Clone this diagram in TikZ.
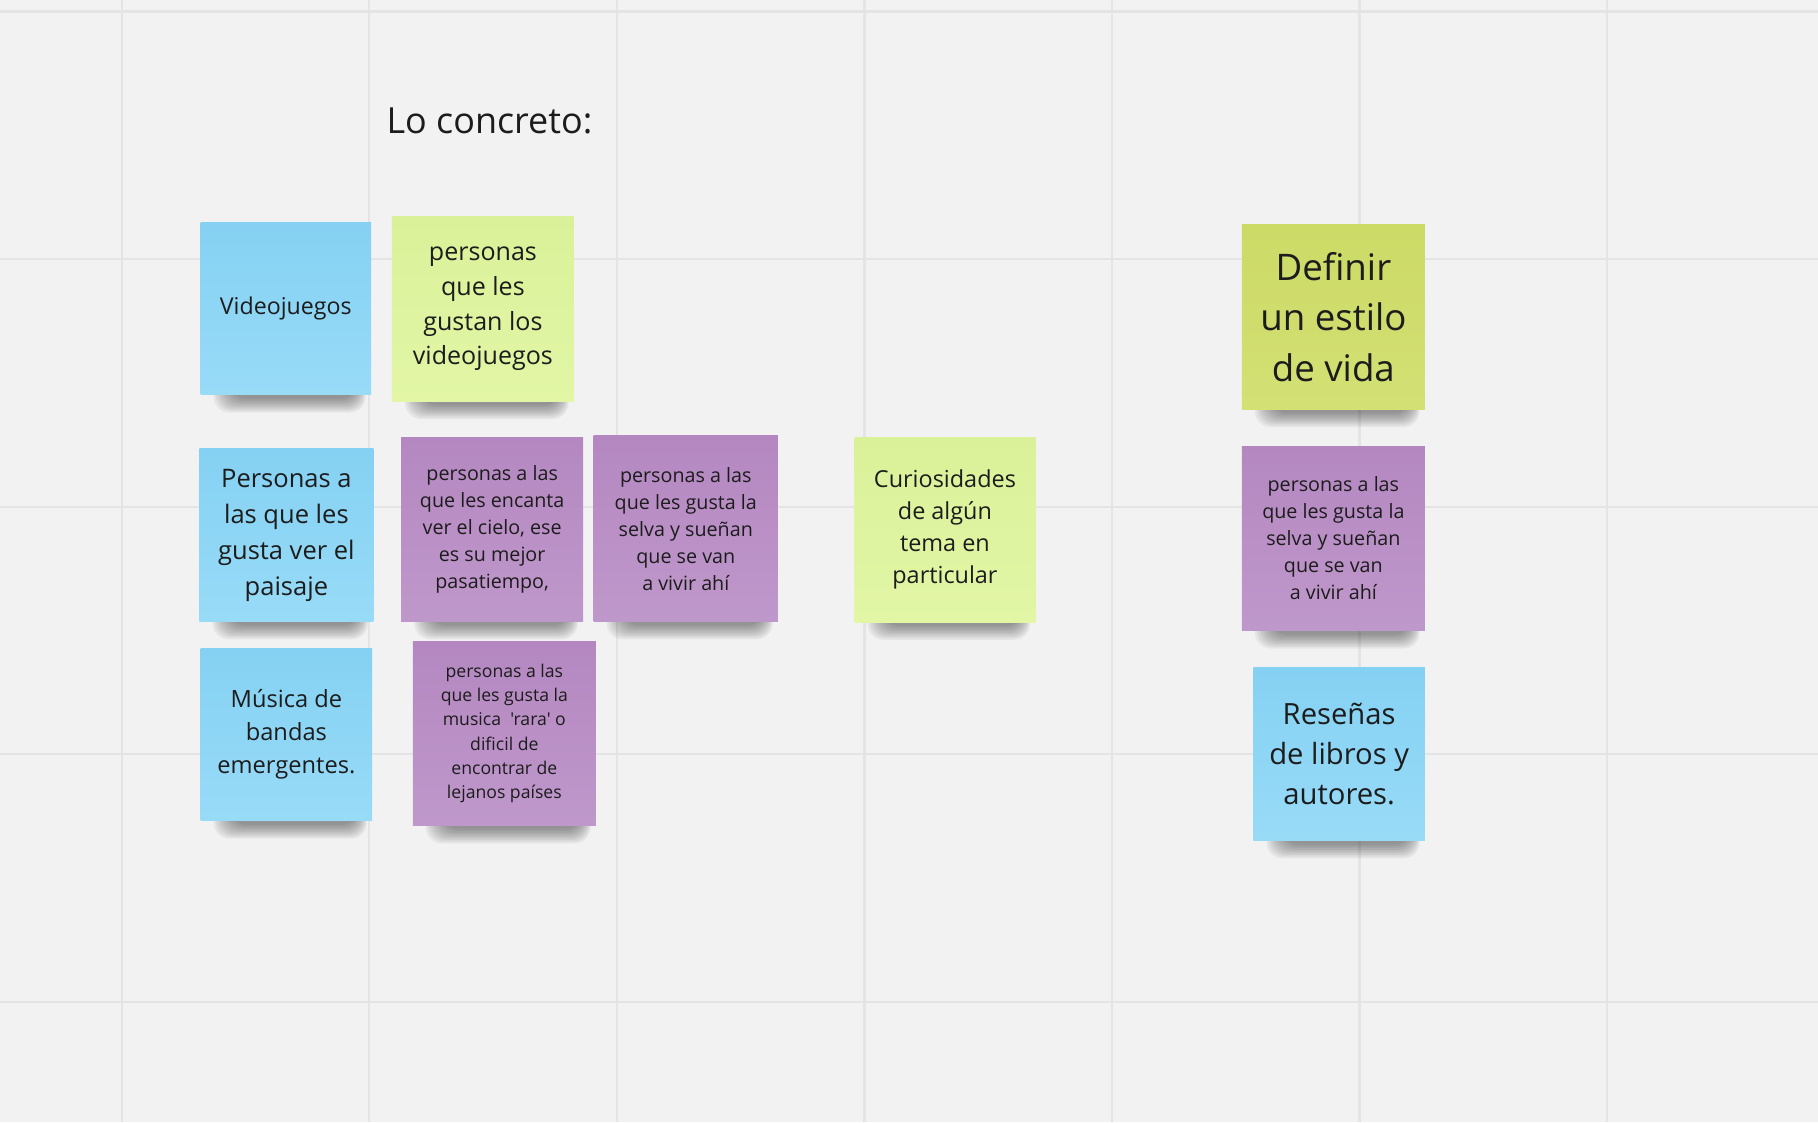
\documentclass[tikz,border=0pt]{standalone}
\usepackage{fontspec}
\setmainfont{Open Sans}[Ligatures=TeXOff]
\usetikzlibrary{calc}
\definecolor{bg}{HTML}{F2F2F2}
\definecolor{gridc}{HTML}{E4E4E4}
\definecolor{ink}{HTML}{1C1C1C}
\definecolor{blueA}{HTML}{85D1F3}
\definecolor{blueB}{HTML}{98DBF7}
\definecolor{purA}{HTML}{B487C0}
\definecolor{purB}{HTML}{BF98CB}
\definecolor{grnA}{HTML}{DAF199}
\definecolor{grnB}{HTML}{E2F6A6}
\definecolor{limeA}{HTML}{CCDA66}
\definecolor{limeB}{HTML}{D3E074}
\newcommand\notefont[2]{\fontsize{#1}{#2}\selectfont}
\pgfdeclarelayer{bglayer}
\pgfdeclarelayer{shadowlayer}
\pgfsetlayers{bglayer,shadowlayer,main}
\newcommand\noteshadow[1]{%
  \begin{pgfonlayer}{shadowlayer}
  \foreach \k in {0,...,8} {
    \fill[black, opacity=0.05, rounded corners=7]
      ($(#1.south west)+(26-\k*1.8,-40)$) rectangle ($(#1.south east)+(-13+\k*1.0,3+\k*1.5)$);
  }
  \end{pgfonlayer}}
\begin{document}
\begin{tikzpicture}[x=0.5pt,y=-0.5pt,
  sticky/.style={inner sep=0pt, align=center, text=ink, draw=none},
  bluenote/.style={sticky, top color=blueA, bottom color=blueB},
  purplenote/.style={sticky, top color=purA, bottom color=purB},
  greennote/.style={sticky, top color=grnA, bottom color=grnB},
  limenote/.style={sticky, top color=limeA, bottom color=limeB},
  gridline/.style={draw=gridc, line width=1pt}]
\useasboundingbox (0,0) rectangle (1568,968);
\begin{pgfonlayer}{bglayer}
\fill[bg] (0,0) rectangle (1568,968);
\foreach \gx in {105,318.5,532,745.5,959,1172.5,1386}
  \draw[gridline] (\gx,0) -- (\gx,968);
\foreach \gy in {10,223.5,437,650.5,864}
  \draw[gridline] (0,\gy) -- (1568,\gy);
\end{pgfonlayer}

\node[anchor=base west, inner sep=0pt, text=ink, font=\notefont{15.5pt}{19pt}] (title) at (333,115) {Lo concreto:};

\node[bluenote, minimum width=73.5pt, minimum height=74.5pt, font=\notefont{10pt}{14pt}]
  (n1) at (246.5,266) {Videojuegos};
\node[greennote, minimum width=78.5pt, minimum height=79.5pt, font=\notefont{10.8pt}{15pt}]
  (n2) at (416.5,266.5) {personas\\que les\\gustan los\\videojuegos};
\node[bluenote, minimum width=75pt, minimum height=74.5pt, font=\notefont{11pt}{15.5pt}]
  (n3) at (247,461.5) {Personas a\\las que les\\gusta ver el\\paisaje};
\node[purplenote, minimum width=78.5pt, minimum height=79.5pt, font=\notefont{8.5pt}{11.65pt}]
  (n4) at (424.5,456.5) {personas a las\\que les encanta\\ver el cielo, ese\\es su mejor\\pasatiempo,};
\node[purplenote, minimum width=79.5pt, minimum height=80pt, font=\notefont{8.5pt}{11.65pt}]
  (n5) at (591.5,456) {personas a las\\que les gusta la\\selva y sueñan\\que se van\\a vivir ahí};
\node[greennote, minimum width=78pt, minimum height=79.5pt, font=\notefont{10.1pt}{13.8pt}]
  (n6) at (815,457) {Curiosidades\\de algún\\tema en\\particular};
\node[limenote, minimum width=79pt, minimum height=79.5pt, font=\notefont{15.8pt}{21.75pt}]
  (n7) at (1150,273.5) {Definir\\un estilo\\de vida};
\node[purplenote, minimum width=79pt, minimum height=79.5pt, font=\notefont{8.5pt}{11.65pt}]
  (n8) at (1150,464.5) {personas a las\\que les gusta la\\selva y sueñan\\que se van\\a vivir ahí};
\node[bluenote, minimum width=74pt, minimum height=74.5pt, font=\notefont{10.2pt}{14.25pt}]
  (n9) at (247,633.5) {Música de\\bandas\\emergentes.};
\node[purplenote, minimum width=79pt, minimum height=79.5pt, font=\notefont{7.6pt}{10.5pt}]
  (n10) at (435,632.5) {personas a las\\que les gusta la\\musica~ 'rara' o\\dificil de\\encontrar de\\lejanos países};
\node[bluenote, minimum width=74pt, minimum height=74.5pt, font=\notefont{12.6pt}{17.25pt}]
  (n11) at (1155,650.5) {Reseñas\\de libros y\\autores.};

\foreach \nn in {n1,n2,n3,n4,n5,n6,n7,n8,n9,n10,n11} {\noteshadow{\nn}}
\end{tikzpicture}
\end{document}
